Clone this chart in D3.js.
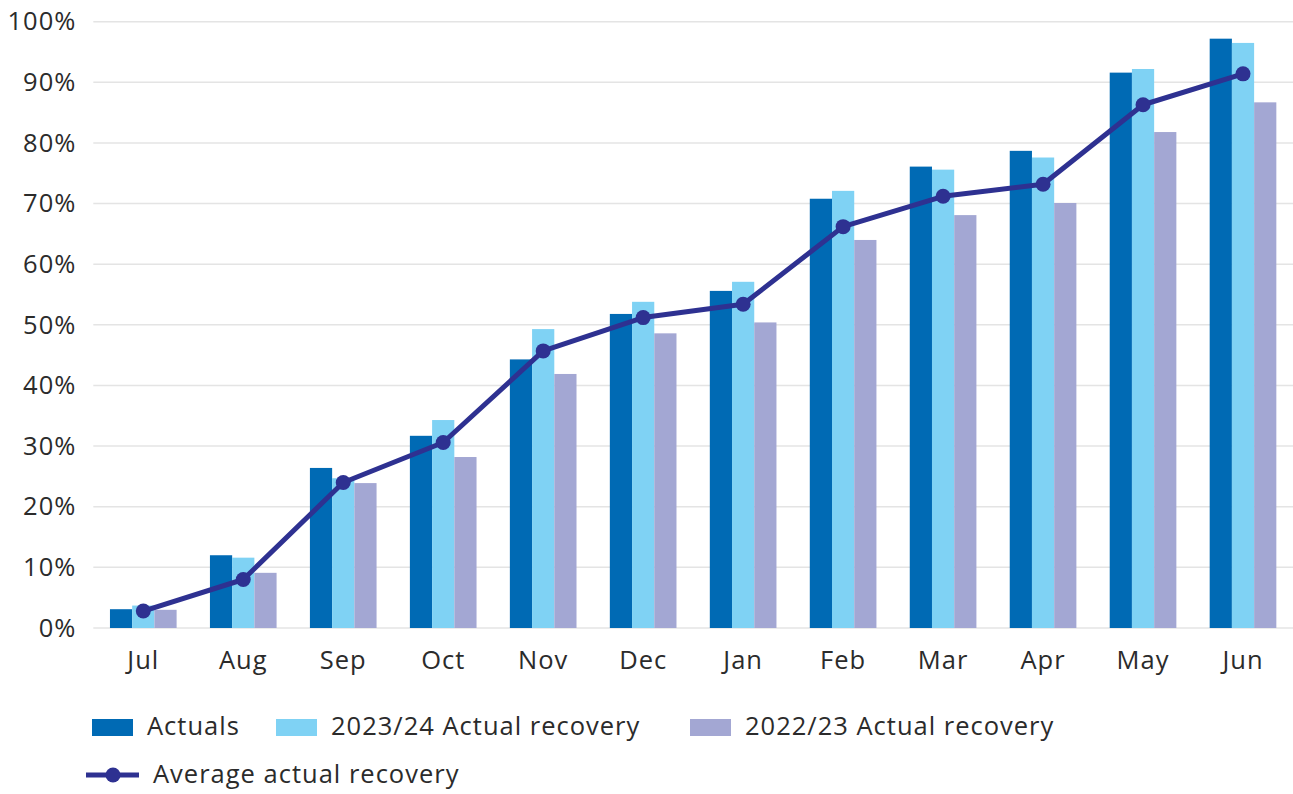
<!DOCTYPE html>
<html>
<head>
<meta charset="utf-8">
<script src="https://cdn.jsdelivr.net/npm/d3@7"></script>
<style>
  body { margin: 0; background: #fff; }
  svg text { font-family: "Open Sans", Lato, sans-serif; fill: #2b2b2b; letter-spacing: 1px; }
</style>
</head>
<body>
<div id="chart"></div>
<script>
var months = ['Jul', 'Aug', 'Sep', 'Oct', 'Nov', 'Dec', 'Jan', 'Feb', 'Mar', 'Apr', 'May', 'Jun'];
var actuals = [3.1, 12.0, 26.4, 31.7, 44.3, 51.8, 55.6, 70.8, 76.1, 78.7, 91.6, 97.2];
var recovery2324 = [3.7, 11.6, 24.7, 34.3, 49.3, 53.8, 57.1, 72.1, 75.6, 77.6, 92.2, 96.5];
var recovery2223 = [3.0, 9.1, 23.9, 28.2, 41.9, 48.6, 50.4, 64.0, 68.1, 70.1, 81.8, 86.7];
var averageRecovery = [2.8, 8.0, 24.0, 30.6, 45.7, 51.2, 53.4, 66.2, 71.2, 73.2, 86.3, 91.4];
var yTicks = [0, 10, 20, 30, 40, 50, 60, 70, 80, 90, 100];

var barSeries = [
  { name: 'Actuals', values: actuals, color: '#006ab4' },
  { name: '2023/24 Actual recovery', values: recovery2324, color: '#7fd2f4' },
  { name: '2022/23 Actual recovery', values: recovery2223, color: '#a3a7d3' }
];
var lineColor = '#2e3191';

var width = 1293;
var height = 794;
var margin = { top: 21.7, left: 93.3, bottom: 166, right: 0 };
var fontSize = 25.5;

var svg = d3.select('#chart').append('svg')
  .attr('width', width)
  .attr('height', height);

var x = d3.scaleBand()
  .domain(months)
  .range([margin.left, width - margin.right])
  .paddingInner(1 / 3)
  .paddingOuter(1 / 6);

var xSub = d3.scaleBand()
  .domain(barSeries.map(function (d) { return d.name; }))
  .range([0, x.bandwidth()]);

var y = d3.scaleLinear()
  .domain([0, 100])
  .range([628, margin.top]);

// gridlines
svg.append('g')
  .selectAll('line')
  .data(yTicks)
  .enter()
  .append('line')
  .attr('x1', margin.left)
  .attr('x2', width)
  .attr('y1', function (d) { return y(d); })
  .attr('y2', function (d) { return y(d); })
  .attr('stroke', '#e4e4e4')
  .attr('stroke-width', 1.5);

// y axis labels
var yAxis = svg.append('g')
  .attr('transform', 'translate(' + (margin.left - 17) + ',0)')
  .call(d3.axisLeft(y).tickValues(yTicks).tickSize(0).tickFormat(function (d) { return d + '%'; }));
yAxis.select('.domain').remove();
yAxis.selectAll('text')
  .attr('x', 0)
  .attr('font-size', fontSize)
  .attr('fill', '#2b2b2b');

// bars
barSeries.forEach(function (s) {
  svg.append('g')
    .selectAll('rect')
    .data(s.values)
    .enter()
    .append('rect')
    .attr('x', function (d, i) { return x(months[i]) + xSub(s.name); })
    .attr('y', function (d) { return y(d); })
    .attr('width', xSub.bandwidth())
    .attr('height', function (d) { return y(0) - y(d); })
    .attr('fill', s.color);
});

// x axis labels
var xAxis = svg.append('g')
  .attr('transform', 'translate(0,' + y(0) + ')')
  .call(d3.axisBottom(x).tickSize(0));
xAxis.select('.domain').remove();
xAxis.selectAll('text')
  .attr('y', 0)
  .attr('dy', 41)
  .attr('font-size', fontSize)
  .attr('fill', '#2b2b2b');

// average line
var line = d3.line()
  .x(function (d, i) { return x(months[i]) + x.bandwidth() / 2; })
  .y(function (d) { return y(d); });

svg.append('path')
  .datum(averageRecovery)
  .attr('d', line)
  .attr('fill', 'none')
  .attr('stroke', lineColor)
  .attr('stroke-width', 5)
  .attr('stroke-linejoin', 'round');

svg.append('g')
  .selectAll('circle')
  .data(averageRecovery)
  .enter()
  .append('circle')
  .attr('cx', function (d, i) { return x(months[i]) + x.bandwidth() / 2; })
  .attr('cy', function (d) { return y(d); })
  .attr('r', 7.5)
  .attr('fill', lineColor);

// legend
var legendX = [92, 276, 690];
var legend = svg.append('g');
barSeries.forEach(function (s, i) {
  legend.append('rect')
    .attr('x', legendX[i])
    .attr('y', 719)
    .attr('width', 41)
    .attr('height', 17)
    .attr('fill', s.color);
  legend.append('text')
    .attr('x', legendX[i] + 55)
    .attr('y', 728)
    .attr('dominant-baseline', 'middle')
    .attr('font-size', fontSize)
    .text(s.name);
});

legend.append('line')
  .attr('x1', 86)
  .attr('x2', 139)
  .attr('y1', 775)
  .attr('y2', 775)
  .attr('stroke', lineColor)
  .attr('stroke-width', 5);
legend.append('circle')
  .attr('cx', 113)
  .attr('cy', 775)
  .attr('r', 7.5)
  .attr('fill', lineColor);
legend.append('text')
  .attr('x', 153)
  .attr('y', 776)
  .attr('dominant-baseline', 'middle')
  .attr('font-size', fontSize)
  .text('Average actual recovery');
</script>
</body>
</html>
